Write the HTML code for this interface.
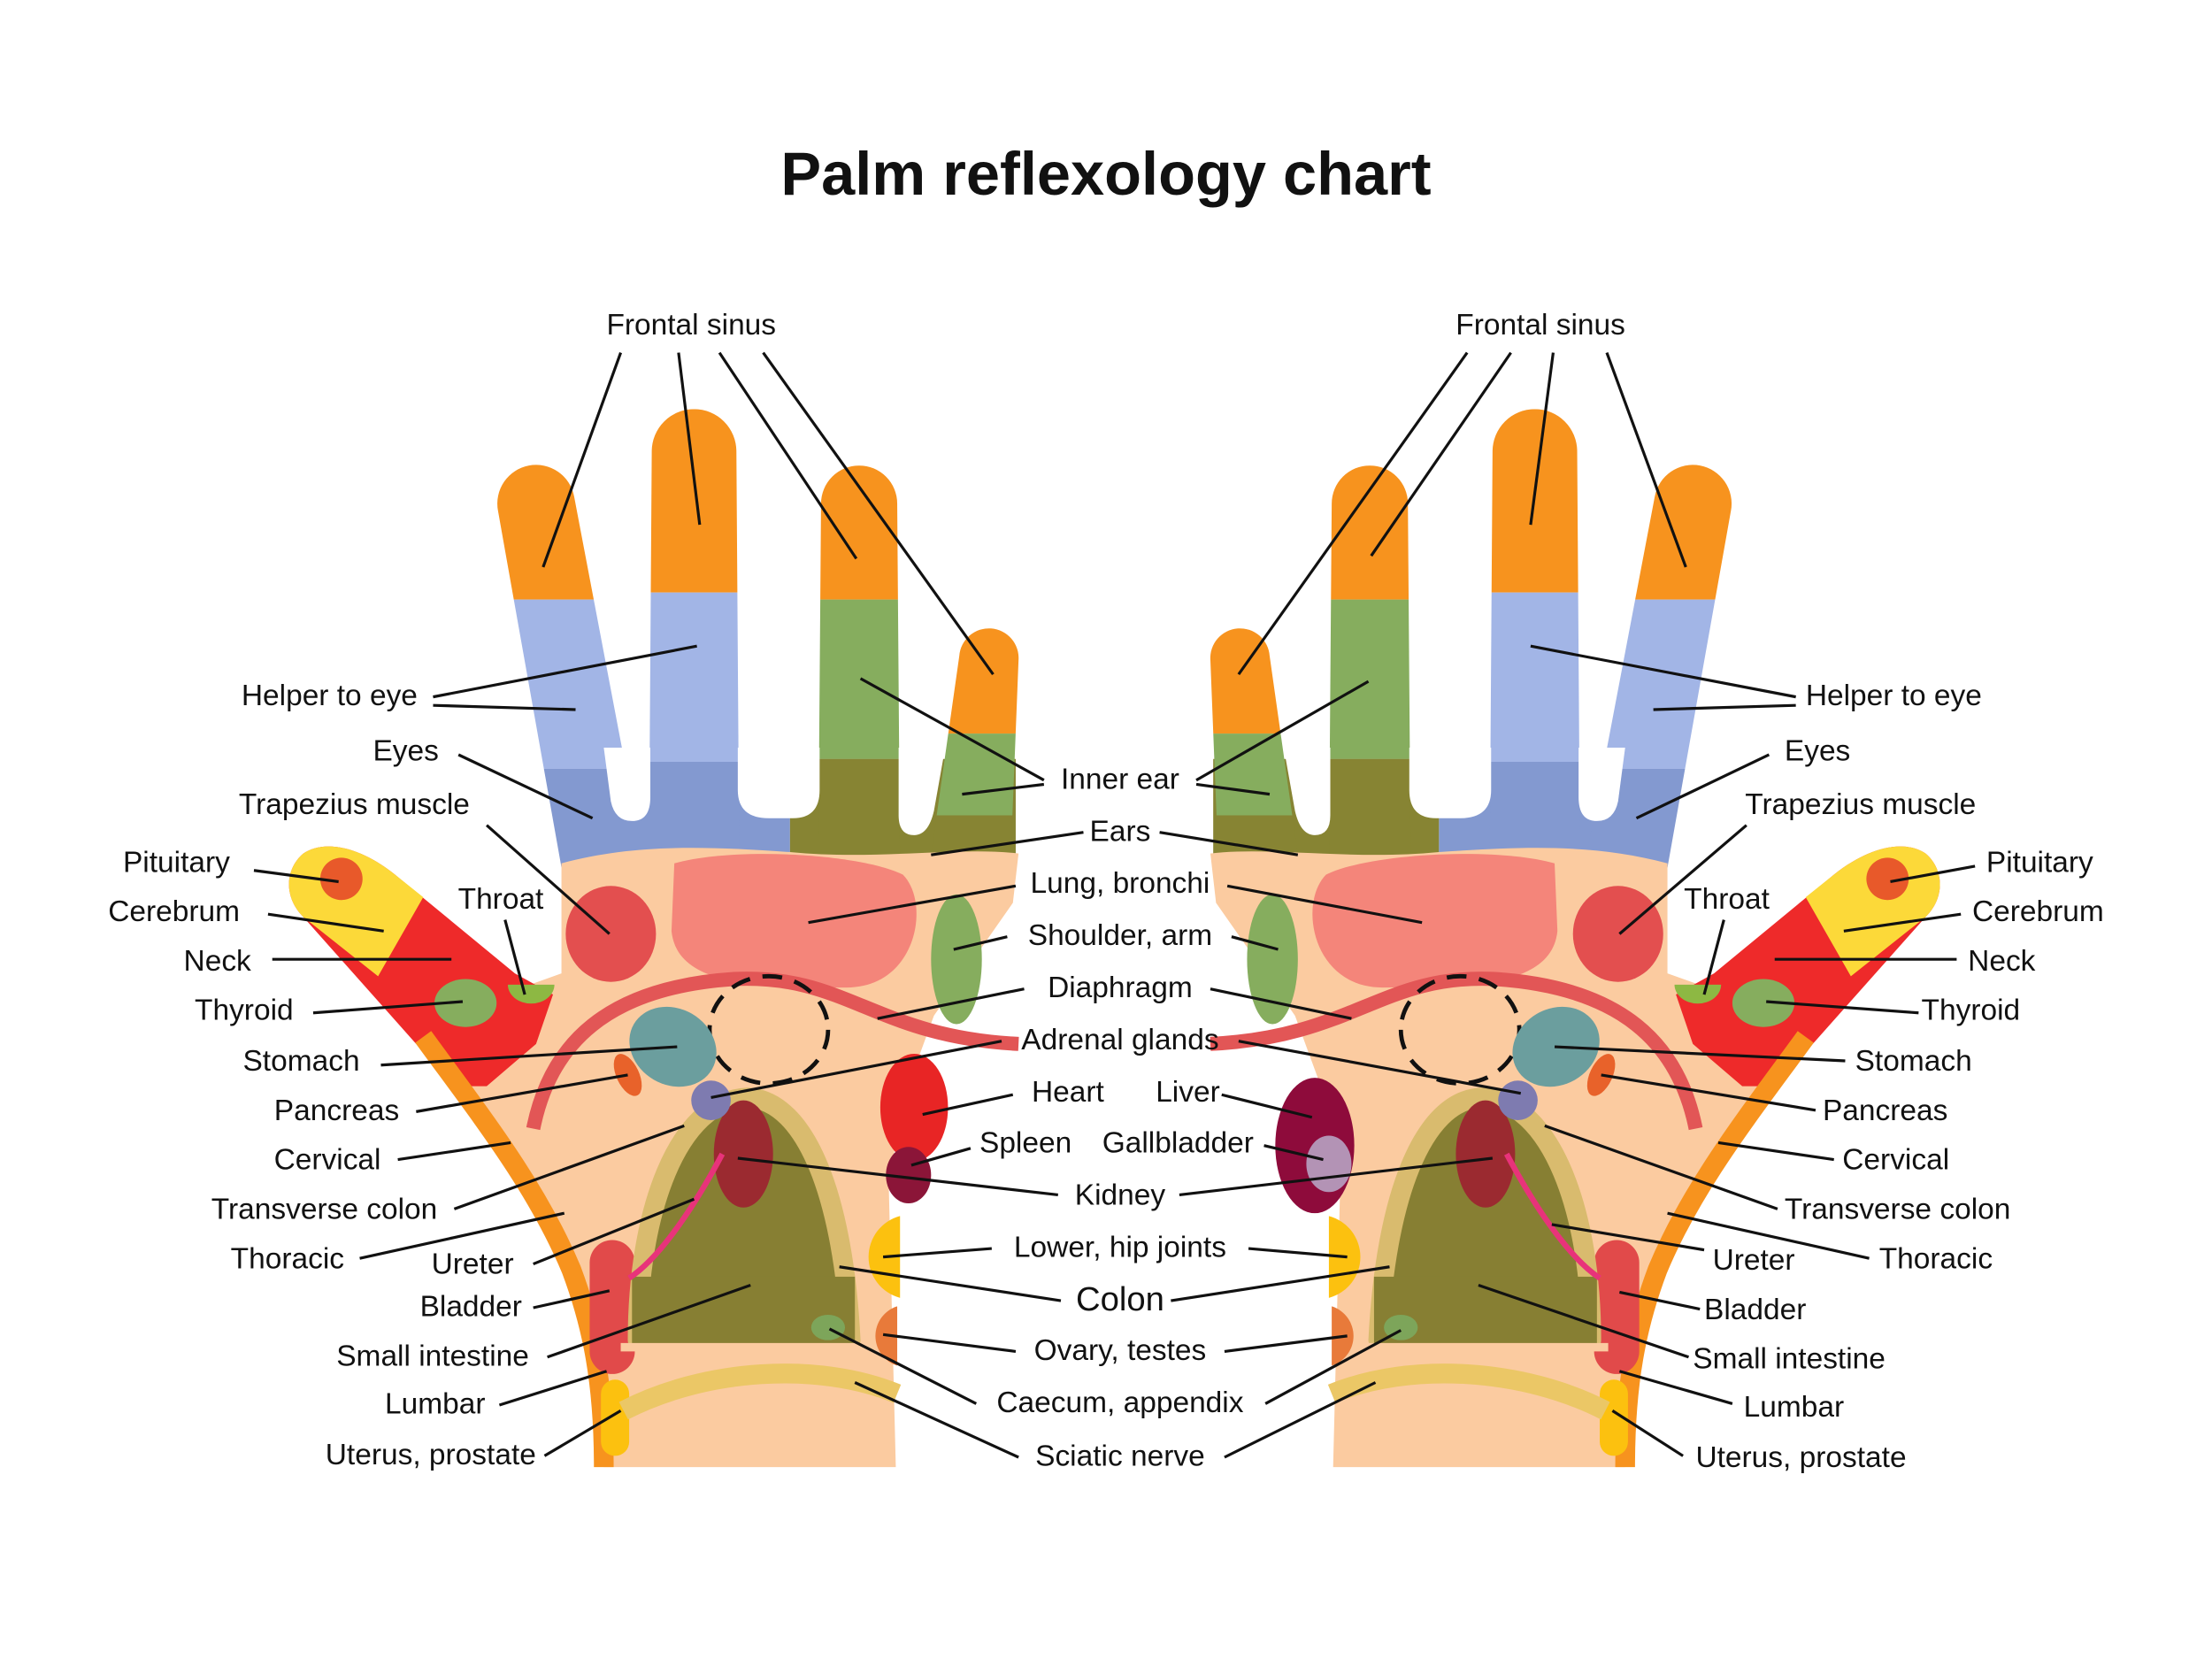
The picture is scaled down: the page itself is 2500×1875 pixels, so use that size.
<!DOCTYPE html>
<html><head><meta charset="utf-8">
<style>
html,body{margin:0;padding:0;background:#fff;}
svg{display:block;}
text{font-family:"Liberation Sans",sans-serif;font-size:21px;fill:#111;}
.t{font-size:43px;font-weight:bold;}
.l line{stroke:#111;stroke-width:2;}
</style></head><body>
<svg width="2500" height="1875" viewBox="0 0 1568 1176" xmlns="http://www.w3.org/2000/svg">
<defs>
<clipPath id="f1"><path d="M353,362 A27,27 0 0 1 407,352 L457,615 L398,615 Z"/></clipPath>
<clipPath id="f2"><path d="M462,320 A30,30 0 0 1 522,320 L524,610 L460,610 Z"/></clipPath>
<clipPath id="f3"><path d="M582,357 A27,27 0 0 1 636,357 L638,615 L580,615 Z"/></clipPath>
<clipPath id="f4"><path d="M680,465 A21,21 0 0 1 722,468 L716,620 L658,620 Z"/></clipPath>
<clipPath id="thy"><path d="M200,560 L310,630 L262,700 L180,660 Z"/></clipPath>
<g id="hand">
 <rect x="398" y="545" width="162" height="70" fill="#8399D0"/>
 <rect x="560" y="538" width="160" height="77" fill="#878433"/>
 <g clip-path="url(#f1)"><rect x="340" y="300" width="130" height="125" fill="#F7931E"/><rect x="340" y="425" width="130" height="120" fill="#A2B5E6"/><rect x="340" y="545" width="130" height="80" fill="#8399D0"/></g>
 <g clip-path="url(#f2)"><rect x="450" y="280" width="90" height="140" fill="#F7931E"/><rect x="450" y="420" width="90" height="120" fill="#A2B5E6"/><rect x="450" y="540" width="90" height="80" fill="#8399D0"/></g>
 <g clip-path="url(#f3)"><rect x="570" y="320" width="80" height="105" fill="#F7931E"/><rect x="570" y="425" width="80" height="113" fill="#86AD5E"/><rect x="570" y="538" width="80" height="80" fill="#878433"/></g>
 <g clip-path="url(#f4)"><rect x="650" y="430" width="90" height="90" fill="#F7931E"/><rect x="650" y="520" width="90" height="58" fill="#86AD5E"/><rect x="650" y="578" width="90" height="50" fill="#878433"/></g>
 <path d="M428,530 L461,530 L461,565 Q461,582 448,582 Q436,582 433,568 Z" fill="#fff"/>
 <path d="M523,530 L581,530 L581,560 Q581,580 562,580 L545,580 Q523,580 523,560 Z" fill="#fff"/>
 <path d="M637,530 L670,530 L662,575 Q658,592 648,592 Q637,592 637,578 Z" fill="#fff"/>
 <rect x="721" y="520" width="30" height="100" fill="#fff"/>
 <path d="M398,612 C450,598 500,600 560,604 C620,610 680,600 722,605 L718,640 L662,720 L640,780 L630,840 L635,1040 L428,1040 C428,980 420,940 405,900 C380,840 340,790 300,735 L370,700 L398,690 Z" fill="#FBCBA0"/>
 <path d="M215,605 C230,595 255,600 280,620 L365,690 L392,705 L380,740 L345,770 L320,770 L295,740 L215,650 C200,635 203,615 215,605 Z" fill="#EE2A2A"/>
 <path d="M215,605 C230,595 255,600 280,620 L300,636 L268,692 L215,650 C200,635 203,615 215,605 Z" fill="#FCD939"/>
 <circle cx="242" cy="623" r="15" fill="#E8592A"/>
 <ellipse cx="330" cy="711" rx="22" ry="17" fill="#86AD5E"/>
 <path d="M360,698 A16,13 0 0 0 393,698 Z" fill="#8DB843"/>
 <path d="M300,735 C340,790 380,840 405,900 C420,940 428,980 428,1040" stroke="#F7931E" stroke-width="14" fill="none"/>
 <path d="M434,895 L434,958" stroke="#E14A4A" stroke-width="32" stroke-linecap="round"/>
 <path d="M436,988 L436,1022" stroke="#FCC10F" stroke-width="20" stroke-linecap="round"/>
 <path d="M478,612 C520,600 610,605 640,620 C660,640 650,700 600,700 C540,700 480,700 476,660 Z" fill="#F4857A"/>
 <ellipse cx="433" cy="662" rx="32" ry="34" fill="#E34F4F"/>
 <ellipse cx="678" cy="680" rx="18" ry="46" fill="#86AD5E"/>
 <path d="M378,800 C390,740 430,700 520,694 C600,690 620,735 722,740" stroke="#E25656" stroke-width="10" fill="none"/>
 <ellipse cx="545" cy="730" rx="42" ry="38" fill="none" stroke="#111" stroke-width="3" stroke-dasharray="14,9"/>
 <ellipse cx="477" cy="742" rx="32" ry="27" fill="#6B9E9E" transform="rotate(30 477 742)"/>
 <ellipse cx="445" cy="762" rx="8" ry="16" fill="#E8622A" transform="rotate(-25 445 762)"/>
 <path d="M452,950 C452,860 480,780 530,778 C572,780 598,850 603,950 Z" fill="#877F33" stroke="#D9BB6E" stroke-width="14" stroke-linejoin="round"/>
 <rect x="448" y="905" width="158" height="48" fill="#877F33"/>
 <path d="M440,955 L610,955" stroke="#FBCBA0" stroke-width="6"/>
 <ellipse cx="527" cy="818" rx="21" ry="38" fill="#9B2A30"/>
 <circle cx="504" cy="780" r="14" fill="#7E7BB0"/>
 <path d="M512,818 C495,850 470,890 446,906" stroke="#E8337A" stroke-width="4" fill="none"/>
 <path d="M638,862 A30,30 0 0 0 638,920 Z" fill="#FCC10F"/>
 <path d="M636,926 A22,22 0 0 0 636,968 Z" fill="#E87A3A"/>
 <ellipse cx="587" cy="941" rx="12" ry="9" fill="#7DA55A"/>
 <path d="M442,1000 C500,970 580,965 636,988" stroke="#EBC766" stroke-width="14" fill="none"/>
</g>
</defs>
<text class="t" x="784" y="138" text-anchor="middle">Palm reflexology chart</text>
<use href="#hand"/>
<ellipse cx="648" cy="785" rx="24" ry="38" fill="#E82525"/>
<ellipse cx="644" cy="833" rx="16" ry="20" fill="#8B1538"/>
<use href="#hand" transform="translate(1580,0) scale(-1,1)"/>
<ellipse cx="932" cy="812" rx="28" ry="48" fill="#8E0B3B"/>
<ellipse cx="942" cy="825" rx="16" ry="20" fill="#B393B5"/>
<g class="l">
<line x1="440" y1="250" x2="385" y2="402"/><line x1="481" y1="250" x2="496" y2="372"/><line x1="510" y1="250" x2="607" y2="396"/><line x1="541" y1="250" x2="704" y2="478"/>
<line x1="1040" y1="250" x2="878" y2="478"/><line x1="1071" y1="250" x2="972" y2="394"/><line x1="1101" y1="250" x2="1085" y2="372"/><line x1="1139" y1="250" x2="1195" y2="402"/>
<line x1="307" y1="494" x2="494" y2="458"/><line x1="307" y1="500" x2="408" y2="503"/>
<line x1="325" y1="535" x2="420" y2="580"/><line x1="345" y1="585" x2="432" y2="662"/>
<line x1="180" y1="617" x2="240" y2="625"/><line x1="190" y1="648" x2="272" y2="660"/>
<line x1="193" y1="680" x2="320" y2="680"/><line x1="222" y1="718" x2="328" y2="710"/>
<line x1="358" y1="652" x2="372" y2="705"/><line x1="270" y1="755" x2="480" y2="742"/>
<line x1="295" y1="788" x2="445" y2="762"/><line x1="282" y1="822" x2="362" y2="810"/>
<line x1="322" y1="857" x2="485" y2="798"/><line x1="255" y1="892" x2="400" y2="860"/>
<line x1="378" y1="896" x2="492" y2="850"/><line x1="378" y1="927" x2="432" y2="915"/>
<line x1="388" y1="962" x2="532" y2="911"/><line x1="354" y1="996" x2="430" y2="972"/>
<line x1="386" y1="1032" x2="440" y2="1000"/>
<line x1="740" y1="553" x2="610" y2="481"/><line x1="740" y1="556" x2="682" y2="563"/><line x1="848" y1="553" x2="970" y2="483"/><line x1="848" y1="556" x2="900" y2="563"/>
<line x1="768" y1="590" x2="660" y2="606"/><line x1="822" y1="590" x2="920" y2="606"/>
<line x1="720" y1="628" x2="573" y2="654"/><line x1="870" y1="628" x2="1008" y2="654"/>
<line x1="714" y1="664" x2="676" y2="673"/><line x1="873" y1="664" x2="906" y2="673"/>
<line x1="726" y1="701" x2="622" y2="722"/><line x1="858" y1="701" x2="958" y2="722"/>
<line x1="710" y1="738" x2="504" y2="778"/><line x1="878" y1="738" x2="1078" y2="775"/>
<line x1="718" y1="776" x2="654" y2="790"/><line x1="866" y1="776" x2="930" y2="792"/>
<line x1="688" y1="814" x2="646" y2="826"/><line x1="896" y1="812" x2="938" y2="822"/>
<line x1="750" y1="847" x2="523" y2="821"/><line x1="836" y1="847" x2="1058" y2="821"/>
<line x1="703" y1="885" x2="626" y2="891"/><line x1="885" y1="885" x2="955" y2="891"/>
<line x1="752" y1="922" x2="595" y2="898"/><line x1="830" y1="922" x2="985" y2="898"/>
<line x1="720" y1="958" x2="626" y2="946"/><line x1="868" y1="958" x2="955" y2="947"/>
<line x1="692" y1="995" x2="588" y2="942"/><line x1="897" y1="995" x2="993" y2="943"/>
<line x1="722" y1="1033" x2="606" y2="980"/><line x1="868" y1="1033" x2="975" y2="980"/>
<line x1="1273" y1="494" x2="1085" y2="458"/><line x1="1273" y1="500" x2="1172" y2="503"/>
<line x1="1254" y1="535" x2="1160" y2="580"/><line x1="1238" y1="585" x2="1148" y2="662"/>
<line x1="1400" y1="614" x2="1340" y2="625"/><line x1="1390" y1="648" x2="1307" y2="660"/>
<line x1="1387" y1="680" x2="1258" y2="680"/><line x1="1360" y1="718" x2="1252" y2="710"/>
<line x1="1222" y1="652" x2="1208" y2="705"/><line x1="1308" y1="752" x2="1102" y2="742"/>
<line x1="1287" y1="787" x2="1135" y2="762"/><line x1="1300" y1="822" x2="1218" y2="810"/>
<line x1="1260" y1="857" x2="1095" y2="798"/><line x1="1325" y1="892" x2="1182" y2="860"/>
<line x1="1208" y1="886" x2="1100" y2="868"/><line x1="1205" y1="928" x2="1148" y2="916"/>
<line x1="1197" y1="962" x2="1048" y2="911"/><line x1="1228" y1="995" x2="1148" y2="972"/>
<line x1="1193" y1="1032" x2="1143" y2="1000"/>
</g>
<g text-anchor="middle">
<text x="490" y="237">Frontal sinus</text><text x="1092" y="237">Frontal sinus</text>
<text x="355" y="644">Throat</text><text x="1224" y="644">Throat</text>
<text x="335" y="903">Ureter</text>
<text x="794" y="559">Inner ear</text><text x="794" y="596">Ears</text>
<text x="794" y="633">Lung, bronchi</text><text x="794" y="670">Shoulder, arm</text>
<text x="794" y="707">Diaphragm</text><text x="794" y="744">Adrenal glands</text>
<text x="757" y="781">Heart</text><text x="842" y="781">Liver</text>
<text x="727" y="817">Spleen</text><text x="835" y="817">Gallbladder</text>
<text x="794" y="854">Kidney</text><text x="794" y="891">Lower, hip joints</text>
<text x="794" y="929" style="font-size:24px">Colon</text><text x="794" y="964">Ovary, testes</text>
<text x="794" y="1001">Caecum, appendix</text><text x="794" y="1039">Sciatic nerve</text>
</g>
<g text-anchor="end">
<text x="296" y="500">Helper to eye</text><text x="311" y="539">Eyes</text>
<text x="333" y="577">Trapezius muscle</text><text x="163" y="618">Pituitary</text>
<text x="170" y="653">Cerebrum</text><text x="178" y="688">Neck</text>
<text x="208" y="723">Thyroid</text><text x="255" y="759">Stomach</text>
<text x="283" y="794">Pancreas</text><text x="270" y="829">Cervical</text>
<text x="310" y="864">Transverse colon</text><text x="244" y="899">Thoracic</text>
<text x="370" y="933">Bladder</text><text x="375" y="968">Small intestine</text>
<text x="344" y="1002">Lumbar</text><text x="380" y="1038">Uterus, prostate</text>
</g>
<g>
<text x="1280" y="500">Helper to eye</text><text x="1265" y="539">Eyes</text>
<text x="1237" y="577">Trapezius muscle</text><text x="1408" y="618">Pituitary</text>
<text x="1398" y="653">Cerebrum</text><text x="1395" y="688">Neck</text>
<text x="1362" y="723">Thyroid</text><text x="1315" y="759">Stomach</text>
<text x="1292" y="794">Pancreas</text><text x="1306" y="829">Cervical</text>
<text x="1265" y="864">Transverse colon</text><text x="1332" y="899">Thoracic</text>
<text x="1214" y="900">Ureter</text><text x="1208" y="935">Bladder</text>
<text x="1200" y="970">Small intestine</text><text x="1236" y="1004">Lumbar</text>
<text x="1202" y="1040">Uterus, prostate</text>
</g>
</svg>
</body></html>
